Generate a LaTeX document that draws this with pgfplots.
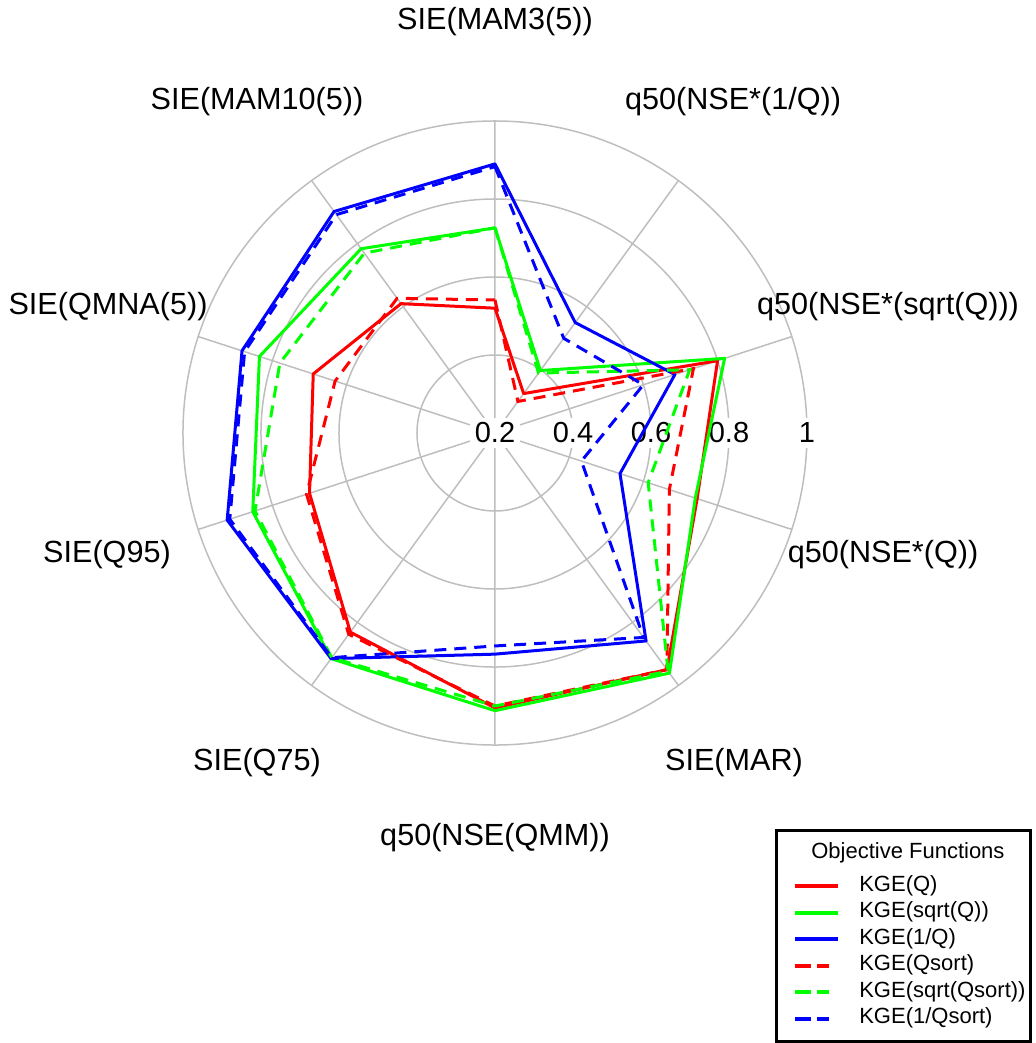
\documentclass[border=0pt]{standalone}
\usepackage{pgfplots}
\pgfplotsset{compat=1.18}
\usepgfplotslibrary{polar}
\usepackage{pgfplotstable}
\usepackage{fontspec}
\setmainfont{Liberation Sans}

\definecolor{gridgray}{RGB}{190,190,190}
\definecolor{kred}{RGB}{255,0,0}
\definecolor{kgreen}{RGB}{0,255,0}
\definecolor{kblue}{RGB}{0,0,255}

% angle (deg) and score for each objective function
\pgfplotstableread{
a     kq     ksq    kiq    kqs    ksqs   kiqs
90    0.520  0.726  0.890  0.541  0.726  0.883
54    0.325  0.398  0.550  0.300  0.390  0.500
18    0.800  0.819  0.685  0.735  0.725  0.600
-18   0.745  0.740  0.537  0.670  0.613  0.433
-54   0.950  0.961  0.859  0.950  0.955  0.848
-90   0.905  0.912  0.767  0.900  0.900  0.746
-126  0.831  0.915  0.915  0.838  0.912  0.912
-162  0.700  0.853  0.922  0.708  0.847  0.915
-198  0.690  0.835  0.882  0.631  0.780  0.875
-234  0.610  0.784  0.902  0.627  0.770  0.892
}\radar

\newcommand{\lstrut}{\rule[-3pt]{0pt}{11pt}}
\newcommand{\labfont}{\fontsize{15.3}{18}\selectfont}

\begin{document}
\begin{tikzpicture}
\path[use as bounding box] (-247.5pt,-305pt) rectangle (270pt,216.5pt);
\begin{polaraxis}[
    at={(0pt,0pt)}, anchor=center,
    width=312pt, height=312pt, scale only axis,
    xmin=0, xmax=360, ymin=0, ymax=0.8,
    xtick={18,54,...,342}, ytick={0.2,0.4,0.6},
    xticklabels={}, yticklabels={},
    major tick length=0pt,
    grid=major,
    major grid style={gridgray, line width=0.75pt},
    x axis line style={gridgray, line width=0.75pt},
    y axis line style={draw=none},
    clip=false,
    legend image code/.code={
        \path[draw=none] (0pt,0pt) -- (28.5pt,0pt);
        \draw[#1, line width=2pt] (7pt,0pt) -- (28.5pt,0pt);
    },
    legend style={
        at={(axis description cs:1.3606,-0.1346)}, anchor=north east,
        draw=black, line width=1.5pt,
        font=\fontsize{11}{13}\selectfont,
        inner xsep=2.5pt, inner ysep=6pt,
        row sep=2.25pt, column sep=9.5pt,
        nodes={inner sep=0pt, text depth=},
    },
    legend cell align=left,
]
\node[fill=white, inner sep=2.5pt, font=\fontsize{14.5}{17}\selectfont] at (axis cs:0,0) {0.2};
\node[fill=white, inner sep=2.5pt, font=\fontsize{14.5}{17}\selectfont] at (axis cs:0,0.2) {0.4};
\node[fill=white, inner sep=2.5pt, font=\fontsize{14.5}{17}\selectfont] at (axis cs:0,0.4) {0.6};
\node[fill=white, inner sep=2.5pt, font=\fontsize{14.5}{17}\selectfont] at (axis cs:0,0.6) {0.8};
\node[fill=white, inner sep=2.5pt, font=\fontsize{14.5}{17}\selectfont] at (axis cs:0,0.8) {1};

\addlegendimage{empty legend}
\addlegendentry{\hspace*{-24pt}Objective Functions\rule[-6.25pt]{0pt}{11pt}}

\addplot[kred, line width=1.5pt, line join=round] table[x=a, y expr=\thisrow{kq}-0.2] {\radar} -- cycle;
\addlegendentry{KGE(Q)\lstrut}
\addplot[kgreen, line width=1.5pt, line join=round] table[x=a, y expr=\thisrow{ksq}-0.2] {\radar} -- cycle;
\addlegendentry{KGE(sqrt(Q))\lstrut}
\addplot[kblue, line width=1.5pt, line join=round] table[x=a, y expr=\thisrow{kiq}-0.2] {\radar} -- cycle;
\addlegendentry{KGE(1/Q)\lstrut}

\pgfplotsset{
    dashleg/.style={legend image code/.code={
        \path[draw=none] (0pt,0pt) -- (28.5pt,0pt);
        \draw[##1, line width=2pt, dash pattern=on 8pt off 3pt on 6pt off 20pt] (7pt,0pt) -- (28.5pt,0pt);
    }},
}
\addplot[kred, line width=1.5pt, dash pattern=on 6pt off 4pt, dashleg] table[x=a, y expr=\thisrow{kqs}-0.2] {\radar} -- cycle;
\addlegendentry{KGE(Qsort)\lstrut}
\addplot[kgreen, line width=1.5pt, dash pattern=on 6pt off 4pt, dashleg] table[x=a, y expr=\thisrow{ksqs}-0.2] {\radar} -- cycle;
\addlegendentry{KGE(sqrt(Qsort))\lstrut}
\addplot[kblue, line width=1.5pt, dash pattern=on 6pt off 4pt, dashleg] table[x=a, y expr=\thisrow{kiqs}-0.2] {\radar} -- cycle;
\addlegendentry{KGE(1/Qsort)\lstrut}
\end{polaraxis}

\begin{scope}[every node/.style={font=\labfont}]
\node at (0pt,205.5pt) {SIE(MAM3(5))};
\node at (119pt,165.5pt) {q50(NSE*(1/Q))};
\node at (196.5pt,63pt) {q50(NSE*(sqrt(Q)))};
\node at (194pt,-61pt) {q50(NSE*(Q))};
\node at (119.5pt,-165pt) {SIE(MAR)};
\node at (0pt,-202.5pt) {q50(NSE(QMM))};
\node at (-119pt,-165pt) {SIE(Q75)};
\node at (-194pt,-61pt) {SIE(Q95)};
\node at (-193.5pt,63pt) {SIE(QMNA(5))};
\node at (-119pt,165.5pt) {SIE(MAM10(5))};
\end{scope}
\end{tikzpicture}
\end{document}
